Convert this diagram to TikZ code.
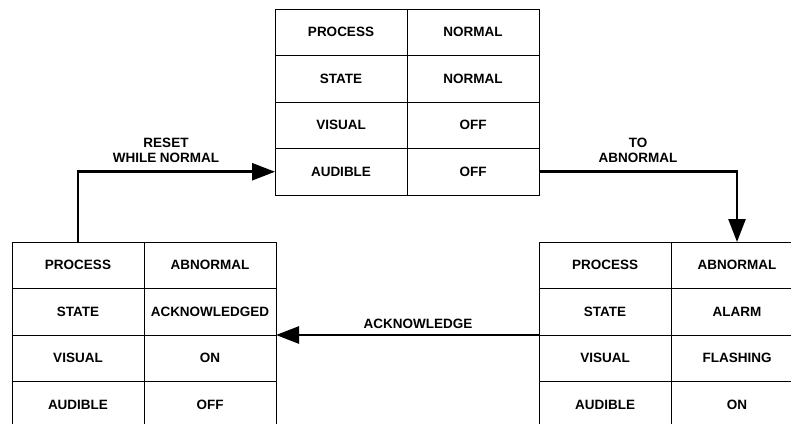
\documentclass[tikz,border=0pt]{standalone}
\usepackage{fontspec}
\setmainfont{Liberation Sans}
\usetikzlibrary{arrows.meta}
\begin{document}
\begin{tikzpicture}[x=1pt,y=-1pt,
  cell/.style={draw, line width=1pt, minimum width=132pt, minimum height=46.5pt,
    inner sep=0pt, outer sep=0pt, anchor=north west,
    font=\fontsize{13.5}{15}\selectfont\bfseries},
  lbl/.style={align=center, inner sep=0pt, font=\fontsize{13.5}{15}\selectfont\bfseries},
  flow/.style={line width=2.6pt, -{Triangle[length=23pt,width=17pt]}}]
\useasboundingbox (0,0) rectangle (791,423);
\clip (0,0) rectangle (791,423);
\fill[white] (0,0) rectangle (791,423);

% normal state (top)
\foreach \lab/\val [count=\i] in {PROCESS/NORMAL, STATE/NORMAL, VISUAL/OFF, AUDIBLE/OFF} {
  \node[cell] (top-\i-1) at (275, {9+(\i-1)*46.5}) {\lab};
  \node[cell] (top-\i-2) at (407, {9+(\i-1)*46.5}) {\val};
}
% acknowledged state (left)
\foreach \lab/\val [count=\i] in {PROCESS/ABNORMAL, STATE/ACKNOWLEDGED, VISUAL/ON, AUDIBLE/OFF} {
  \node[cell] (left-\i-1) at (12, {242+(\i-1)*46.5}) {\lab};
  \node[cell] (left-\i-2) at (144, {242+(\i-1)*46.5}) {\val};
}
% alarm state (right)
\foreach \lab/\val [count=\i] in {PROCESS/ABNORMAL, STATE/ALARM, VISUAL/FLASHING, AUDIBLE/ON} {
  \node[cell] (right-\i-1) at (539, {242+(\i-1)*46.5}) {\lab};
  \node[cell] (right-\i-2) at (671, {242+(\i-1)*46.5}) {\val};
}

% transitions
\draw[flow] (left-1-1.north) |- (top-4-1.west);
\draw[flow] (top-4-2.east) -| (right-1-2.north);
\draw[flow] (right-2-1.south west) -- (left-2-2.south east);

\node[lbl] (resetlbl) at (166,150.5) {RESET\\WHILE NORMAL};
\node[lbl] (abnlbl) at (638,150.5) {TO\\ABNORMAL};
\node[lbl] (acklbl) at (418,324) {ACKNOWLEDGE};
\end{tikzpicture}
\end{document}
